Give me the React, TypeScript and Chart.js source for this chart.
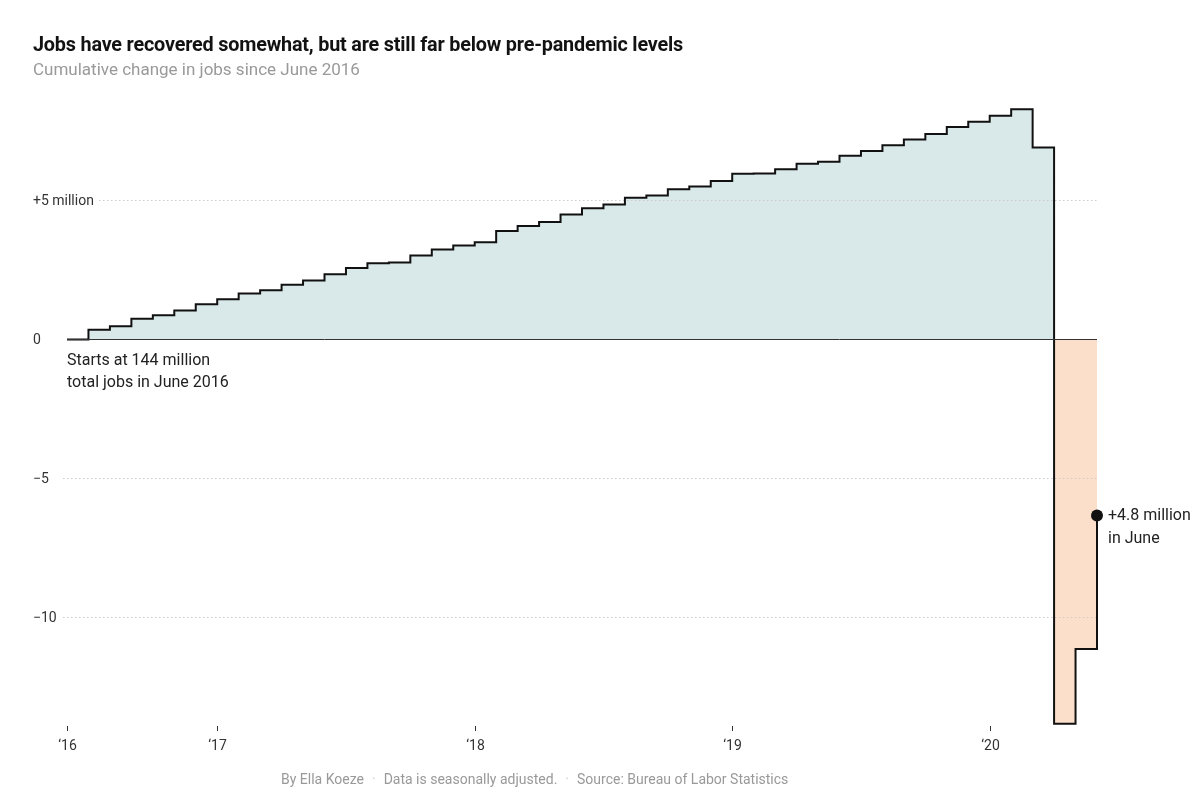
import React, { useEffect, useRef } from "react";
import { Chart, registerables } from "chart.js";

Chart.register(...registerables);

// ---- Data (millions of jobs, cumulative change since June 2016) ----
const months = [
  "Jun 2016", "Jul 2016", "Aug 2016", "Sep 2016", "Oct 2016", "Nov 2016", "Dec 2016",
  "Jan 2017", "Feb 2017", "Mar 2017", "Apr 2017", "May 2017", "Jun 2017",
  "Jul 2017", "Aug 2017", "Sep 2017", "Oct 2017", "Nov 2017", "Dec 2017",
  "Jan 2018", "Feb 2018", "Mar 2018", "Apr 2018", "May 2018", "Jun 2018",
  "Jul 2018", "Aug 2018", "Sep 2018", "Oct 2018", "Nov 2018", "Dec 2018",
  "Jan 2019", "Feb 2019", "Mar 2019", "Apr 2019", "May 2019", "Jun 2019",
  "Jul 2019", "Aug 2019", "Sep 2019", "Oct 2019", "Nov 2019", "Dec 2019",
  "Jan 2020", "Feb 2020", "Mar 2020", "Apr 2020", "May 2020", "Jun 2020",
];

const jobsChange = [
  0, 0.35, 0.48, 0.75, 0.87, 1.04, 1.27,
  1.45, 1.65, 1.77, 1.97, 2.12, 2.35,
  2.57, 2.74, 2.77, 3.02, 3.24, 3.38,
  3.5, 3.9, 4.08, 4.23, 4.5, 4.72,
  4.86, 5.1, 5.18, 5.4, 5.5, 5.7,
  5.96, 5.97, 6.12, 6.32, 6.39, 6.61,
  6.78, 6.99, 7.19, 7.39, 7.64, 7.83,
  8.05, 8.28, 6.91, -13.82, -11.13, -6.33,
];

const yTickValues = [5, 0, -5, -10];
const yTickLabels = ["+5 million", "0", "\u22125", "\u221210"];

const xTickMonths = ["Jun 2016", "Jan 2017", "Jan 2018", "Jan 2019", "Jan 2020"];
const xTickLabels = ["\u201816", "\u201817", "\u201818", "\u201819", "\u201820"];

const startNote = ["Starts at 144 million", "total jobs in June 2016"];
const endNote = ["+4.8 million", "in June"];

const TITLE = "Jobs have recovered somewhat, but are still far below pre-pandemic levels";
const SUBTITLE = "Cumulative change in jobs since June 2016";

const FONT = "Roboto, 'Noto Sans', 'Liberation Sans', sans-serif";

const overlayPlugin = {
  id: "overlay",
  beforeDatasetsDraw(chart: any) {
    const { ctx, scales } = chart;
    const x = scales.x;
    const y = scales.y;
    ctx.save();
    ctx.strokeStyle = "#cccccc";
    ctx.lineWidth = 1;
    ctx.setLineDash([1.5, 2.5]);
    yTickValues.forEach((v) => {
      if (v === 0) return;
      const py = Math.round(y.getPixelForValue(v)) + 0.5;
      ctx.beginPath();
      ctx.moveTo(x.left - 4, py);
      ctx.lineTo(x.right, py);
      ctx.stroke();
    });
    ctx.restore();
  },
  afterDatasetsDraw(chart: any) {
    const { ctx, scales } = chart;
    const x = scales.x;
    const y = scales.y;
    ctx.save();

    // zero line
    const y0 = Math.round(y.getPixelForValue(0)) + 0.5;
    ctx.strokeStyle = "#333333";
    ctx.lineWidth = 1;
    ctx.beginPath();
    ctx.moveTo(x.left, y0);
    ctx.lineTo(x.right, y0);
    ctx.stroke();

    // y labels with white backdrop
    ctx.font = `14px ${FONT}`;
    ctx.textBaseline = "middle";
    ctx.textAlign = "left";
    yTickValues.forEach((v, i) => {
      const py = y.getPixelForValue(v) + 1.5;
      const label = yTickLabels[i];
      const w = ctx.measureText(label).width;
      if (v !== 0) {
        ctx.fillStyle = "#ffffff";
        ctx.fillRect(31, py - 9, w + 6, 16);
      }
      ctx.fillStyle = "#333333";
      ctx.fillText(label, 33, py);
    });

    // x ticks and labels
    const tickTop = 726;
    ctx.strokeStyle = "#333333";
    ctx.lineWidth = 1;
    ctx.textAlign = "center";
    xTickMonths.forEach((m, i) => {
      const px = Math.round(x.getPixelForValue(months.indexOf(m))) + 0.5;
      ctx.beginPath();
      ctx.moveTo(px, tickTop);
      ctx.lineTo(px, tickTop + 5);
      ctx.stroke();
      ctx.fillStyle = "#333333";
      ctx.fillText(xTickLabels[i], px, 746);
    });

    // annotations
    ctx.font = `16px ${FONT}`;
    ctx.fillStyle = "#222222";
    ctx.textAlign = "left";
    const sx = x.getPixelForValue(0);
    const sy = y.getPixelForValue(0);
    ctx.fillText(startNote[0], sx, sy + 22);
    ctx.fillText(startNote[1], sx, sy + 44);

    const last = jobsChange.length - 1;
    const ex = x.getPixelForValue(last);
    const ey = y.getPixelForValue(jobsChange[last]);
    ctx.fillText(endNote[0], ex + 11, ey + 1);
    ctx.fillText(endNote[1], ex + 11, ey + 24);

    ctx.restore();
  },
};

export default function App() {
  const canvasRef = useRef<HTMLCanvasElement | null>(null);
  const titleRef = useRef<HTMLSpanElement | null>(null);

  useEffect(() => {
    const t = titleRef.current;
    if (t) {
      t.style.transform = "none";
      const w = t.getBoundingClientRect().width;
      if (w > 0) t.style.transform = `scaleX(${650 / w})`;
    }
    const canvas = canvasRef.current;
    if (!canvas) return;
    const last = jobsChange.length - 1;
    const chart = new Chart(canvas, {
      type: "line",
      data: {
        labels: months,
        datasets: [
          {
            data: jobsChange,
            stepped: true,
            borderColor: "#111111",
            borderWidth: 2,
            fill: { target: "origin", above: "#d9e8e8", below: "#fbdfca" },
            pointRadius: jobsChange.map((_, i) => (i === last ? 6 : 0)),
            pointBackgroundColor: "#111111",
            pointBorderWidth: 0,
            clip: false as any,
          },
        ],
      },
      options: {
        responsive: false,
        animation: false,
        events: [],
        layout: {
          padding: { left: 67, right: 103, top: 100.4, bottom: 77.3 },
        },
        plugins: {
          legend: { display: false },
          tooltip: { enabled: false },
          filler: { drawTime: "beforeDatasetsDraw" } as any,
        },
        scales: {
          x: { type: "category", display: false, offset: false },
          y: { type: "linear", display: false, min: -14, max: 8.6 },
        },
      },
      plugins: [overlayPlugin],
    });
    return () => chart.destroy();
  }, []);

  return (
    <div
      style={{
        position: "absolute",
        left: 0,
        top: 0,
        width: 1200,
        height: 806,
        background: "#ffffff",
        overflow: "hidden",
        fontFamily: FONT,
      }}
    >
      <canvas
        ref={canvasRef}
        width={1200}
        height={806}
        style={{ position: "absolute", left: 0, top: 0, width: 1200, height: 806 }}
      />
      <div
        style={{
          position: "absolute",
          left: 33,
          top: 34,
          fontSize: 21,
          lineHeight: "21px",
          fontWeight: 700,
          color: "#121212",
          whiteSpace: "nowrap",
        }}
      >
        <span
          ref={titleRef}
          style={{ display: "inline-block", transformOrigin: "left center", letterSpacing: "-0.2px" }}
        >
          {TITLE}
        </span>
      </div>
      <div
        style={{
          position: "absolute",
          left: 33,
          top: 61,
          fontSize: 17,
          lineHeight: "17px",
          color: "#999999",
          whiteSpace: "nowrap",
        }}
      >
        {SUBTITLE}
      </div>
      <div
        style={{
          position: "absolute",
          left: 281,
          top: 771,
          fontSize: 14,
          lineHeight: "16px",
          color: "#999999",
          whiteSpace: "nowrap",
        }}
      >
        <span>By Ella Koeze</span>
        <span style={{ color: "#cccccc", margin: "0 8px" }}>·</span>
        <span>Data is seasonally adjusted.</span>
        <span style={{ color: "#cccccc", margin: "0 8px" }}>·</span>
        <span>Source: Bureau of Labor Statistics</span>
      </div>
    </div>
  );
}
